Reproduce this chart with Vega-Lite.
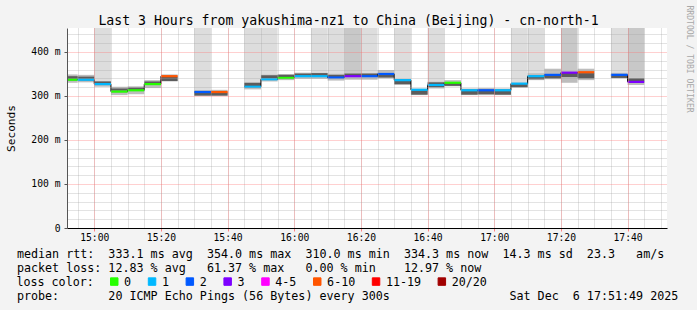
{
  "$schema": "https://vega.github.io/schema/vega-lite/v6.json",
  "autosize": "none",
  "width": 600,
  "height": 200,
  "padding": {"left": 67, "top": 28, "right": 30, "bottom": 82},
  "background": "#f3f3f3",
  "title": {
    "text": "Last 3 Hours from yakushima-nz1 to China (Beijing) - cn-north-1",
    "font": "DejaVu Sans Mono", "fontSize": 13.2, "fontWeight": "normal", "color": "#000000",
    "anchor": "middle", "frame": "bounds", "baseline": "alphabetic", "offset": 4.5, "dy": 37.5
  },
  "data": {"values": [
    {"t": "2025-12-06T14:50:00Z", "e": "2025-12-06T14:55:00Z", "m": 337, "loss": "0", "hi": 0, "lo": 330, "up": 349, "dl": 338, "dh": 345},
    {"t": "2025-12-06T14:55:00Z", "e": "2025-12-06T15:00:00Z", "m": 337, "loss": "1", "hi": 0, "lo": 331, "up": 348, "dl": 338, "dh": 344},
    {"t": "2025-12-06T15:00:00Z", "e": "2025-12-06T15:05:00Z", "m": 327, "loss": "1", "hi": 1, "lo": 321, "up": 334, "dl": 328, "dh": 333},
    {"t": "2025-12-06T15:05:00Z", "e": "2025-12-06T15:10:00Z", "m": 310, "loss": "0", "hi": 0, "lo": 302, "up": 321, "dl": 312, "dh": 317},
    {"t": "2025-12-06T15:10:00Z", "e": "2025-12-06T15:15:00Z", "m": 313, "loss": "0", "hi": 0, "lo": 304, "up": 322, "dl": 314, "dh": 319},
    {"t": "2025-12-06T15:15:00Z", "e": "2025-12-06T15:20:00Z", "m": 327, "loss": "0", "hi": 0, "lo": 318, "up": 336, "dl": 328, "dh": 333},
    {"t": "2025-12-06T15:20:00Z", "e": "2025-12-06T15:25:00Z", "m": 345, "loss": "6-10", "hi": 0, "lo": 333, "up": 349, "dl": 334, "dh": 344},
    {"t": "2025-12-06T15:25:00Z", "e": "2025-12-06T15:30:00Z", "m": null, "loss": null, "hi": 0, "lo": null, "up": null, "dl": null, "dh": null},
    {"t": "2025-12-06T15:30:00Z", "e": "2025-12-06T15:35:00Z", "m": 309, "loss": "2", "hi": 1, "lo": 300, "up": 314, "dl": 301, "dh": 308},
    {"t": "2025-12-06T15:35:00Z", "e": "2025-12-06T15:40:00Z", "m": 309, "loss": "6-10", "hi": 0, "lo": 300, "up": 314, "dl": 301, "dh": 308},
    {"t": "2025-12-06T15:40:00Z", "e": "2025-12-06T15:45:00Z", "m": null, "loss": null, "hi": 0, "lo": null, "up": null, "dl": null, "dh": null},
    {"t": "2025-12-06T15:45:00Z", "e": "2025-12-06T15:50:00Z", "m": 321, "loss": "1", "hi": 1, "lo": 315, "up": 331, "dl": 322, "dh": 330},
    {"t": "2025-12-06T15:50:00Z", "e": "2025-12-06T15:55:00Z", "m": 338, "loss": "1", "hi": 1, "lo": 333, "up": 349, "dl": 340, "dh": 347},
    {"t": "2025-12-06T15:55:00Z", "e": "2025-12-06T16:00:00Z", "m": 341, "loss": "0", "hi": 0, "lo": 336, "up": 350, "dl": 342, "dh": 348},
    {"t": "2025-12-06T16:00:00Z", "e": "2025-12-06T16:05:00Z", "m": 345, "loss": "1", "hi": 0, "lo": 339, "up": 353, "dl": 346, "dh": 351},
    {"t": "2025-12-06T16:05:00Z", "e": "2025-12-06T16:10:00Z", "m": 345, "loss": "1", "hi": 1, "lo": 339, "up": 353, "dl": 346, "dh": 352},
    {"t": "2025-12-06T16:10:00Z", "e": "2025-12-06T16:15:00Z", "m": 342, "loss": "2", "hi": 1, "lo": 335, "up": 351, "dl": 343, "dh": 348},
    {"t": "2025-12-06T16:15:00Z", "e": "2025-12-06T16:20:00Z", "m": 345, "loss": "3", "hi": 2, "lo": 337, "up": 352, "dl": 346, "dh": 351},
    {"t": "2025-12-06T16:20:00Z", "e": "2025-12-06T16:25:00Z", "m": 345, "loss": "2", "hi": 1, "lo": 337, "up": 352, "dl": 346, "dh": 351},
    {"t": "2025-12-06T16:25:00Z", "e": "2025-12-06T16:30:00Z", "m": 350, "loss": "2", "hi": 0, "lo": 340, "up": 359, "dl": 342, "dh": 349},
    {"t": "2025-12-06T16:30:00Z", "e": "2025-12-06T16:35:00Z", "m": 336, "loss": "1", "hi": 1, "lo": 325, "up": 338, "dl": 327, "dh": 335},
    {"t": "2025-12-06T16:35:00Z", "e": "2025-12-06T16:40:00Z", "m": 314, "loss": "1", "hi": 0, "lo": 302, "up": 317, "dl": 303, "dh": 313},
    {"t": "2025-12-06T16:40:00Z", "e": "2025-12-06T16:45:00Z", "m": 325, "loss": "1", "hi": 1, "lo": 317, "up": 333, "dl": 320, "dh": 331},
    {"t": "2025-12-06T16:45:00Z", "e": "2025-12-06T16:50:00Z", "m": 330, "loss": "0", "hi": 0, "lo": 322, "up": 336, "dl": 323, "dh": 330},
    {"t": "2025-12-06T16:50:00Z", "e": "2025-12-06T16:55:00Z", "m": 313, "loss": "1", "hi": 0, "lo": 302, "up": 317, "dl": 303, "dh": 312},
    {"t": "2025-12-06T16:55:00Z", "e": "2025-12-06T17:00:00Z", "m": 313, "loss": "2", "hi": 0, "lo": 302, "up": 318, "dl": 304, "dh": 312},
    {"t": "2025-12-06T17:00:00Z", "e": "2025-12-06T17:05:00Z", "m": 313, "loss": "1", "hi": 0, "lo": 302, "up": 317, "dl": 303, "dh": 312},
    {"t": "2025-12-06T17:05:00Z", "e": "2025-12-06T17:10:00Z", "m": 328, "loss": "1", "hi": 1, "lo": 319, "up": 331, "dl": 320, "dh": 327},
    {"t": "2025-12-06T17:10:00Z", "e": "2025-12-06T17:15:00Z", "m": 345, "loss": "1", "hi": 1, "lo": 336, "up": 352, "dl": 338, "dh": 344},
    {"t": "2025-12-06T17:15:00Z", "e": "2025-12-06T17:20:00Z", "m": 348, "loss": "2", "hi": 0, "lo": 338, "up": 362, "dl": 340, "dh": 347},
    {"t": "2025-12-06T17:20:00Z", "e": "2025-12-06T17:25:00Z", "m": 353, "loss": "3", "hi": 2, "lo": 330, "up": 357, "dl": 343, "dh": 352},
    {"t": "2025-12-06T17:25:00Z", "e": "2025-12-06T17:30:00Z", "m": 354, "loss": "6-10", "hi": 0, "lo": 336, "up": 362, "dl": 340, "dh": 352},
    {"t": "2025-12-06T17:30:00Z", "e": "2025-12-06T17:35:00Z", "m": null, "loss": null, "hi": 0, "lo": null, "up": null, "dl": null, "dh": null},
    {"t": "2025-12-06T17:35:00Z", "e": "2025-12-06T17:40:00Z", "m": 348, "loss": "2", "hi": 1, "lo": 340, "up": 353, "dl": 341, "dh": 347},
    {"t": "2025-12-06T17:40:00Z", "e": "2025-12-06T17:45:00Z", "m": 332, "loss": "3", "hi": 2, "lo": 325, "up": 341, "dl": 333, "dh": 340}
  ]},
  "layer": [
    {
      "transform": [{"filter": "datum.hi == 1"}],
      "mark": {"type": "rect", "color": "#dddddd", "clip": true},
      "encoding": {
        "x": {"field": "t", "type": "temporal",
          "scale": {"type": "utc", "domain": [1765032709000, 1765043509000]},
          "axis": {"orient": "bottom", "values": [1765032900000, 1765033200000, 1765033500000, 1765033800000, 1765034100000, 1765034400000, 1765034700000, 1765035000000, 1765035300000, 1765035600000, 1765035900000, 1765036200000, 1765036500000, 1765036800000, 1765037100000, 1765037400000, 1765037700000, 1765038000000, 1765038300000, 1765038600000, 1765038900000, 1765039200000, 1765039500000, 1765039800000, 1765040100000, 1765040400000, 1765040700000, 1765041000000, 1765041300000, 1765041600000, 1765041900000, 1765042200000, 1765042500000, 1765042800000, 1765043100000, 1765043400000],
            "labels": false, "ticks": false, "domain": false, "title": null,
            "grid": true, "gridColor": "#a0a0a0", "gridOpacity": 0.6, "gridDash": [1, 1], "gridWidth": 1, "zindex": 1}},
        "x2": {"field": "e"},
        "y": {"field": "up", "type": "quantitative", "scale": {"domain": [0, 454.5], "nice": false, "zero": false},
          "axis": {"orient": "left", "values": [20, 40, 60, 80, 120, 140, 160, 180, 220, 240, 260, 280, 320, 340, 360, 380, 420, 440],
            "labels": false, "ticks": false, "domain": false, "title": null,
            "grid": true, "gridColor": "#a0a0a0", "gridOpacity": 0.6, "gridDash": [1, 1], "gridWidth": 1, "zindex": 1}},
        "y2": {"datum": 454.5}
      }
    },
    {
      "transform": [{"filter": "datum.hi == 2"}],
      "mark": {"type": "rect", "color": "#c8c8c8", "clip": true},
      "encoding": {
        "x": {"field": "t", "type": "temporal", "axis": null},
        "x2": {"field": "e"},
        "y": {"field": "up", "type": "quantitative",
          "axis": {"orient": "right", "labels": false, "ticks": false, "domain": false, "grid": false,
            "title": "RRDTOOL / TOBI OETIKER", "titleFont": "DejaVu Sans Mono", "titleFontSize": 8.1, "titleFontWeight": "normal",
            "titleColor": "#a8a8a8", "titleAngle": 90, "titleAlign": "left", "titleBaseline": "middle", "titleX": 21, "titleY": -23}},
        "y2": {"datum": 454.5}
      }
    },
    {
      "transform": [{"filter": "datum.m != null"}],
      "mark": {"type": "rect", "color": "#bdbdbd", "clip": true},
      "encoding": {
        "x": {"field": "t", "type": "temporal",
          "axis": {"orient": "bottom", "values": [1765033200000, 1765034400000, 1765035600000, 1765036800000, 1765038000000, 1765039200000, 1765040400000, 1765041600000, 1765042800000],
            "format": "%H:%M",
            "labelFont": "DejaVu Sans Mono", "labelFontSize": 9.7, "labelColor": "#000000", "labelPadding": 1, "labelFlush": false, "labelOverlap": false,
            "ticks": true, "tickSize": 3, "tickColor": "#ff8080", "domain": true, "domainColor": "#000000", "domainWidth": 1,
            "grid": true, "gridColor": "#ff7070", "gridOpacity": 0.65, "gridDash": [1, 1], "gridWidth": 1, "zindex": 1,
            "title": [
              "median rtt:\u00a0\u00a0333.1 ms avg\u00a0\u00a0354.0 ms max\u00a0\u00a0310.0 ms min\u00a0\u00a0334.3 ms now\u00a0\u00a014.3 ms sd\u00a0\u00a023.3\u00a0\u00a0\u00a0am/s",
              "packet loss: 12.83 % avg\u00a0\u00a0\u00a061.37 % max\u00a0\u00a0\u00a00.00 % min\u00a0\u00a0\u00a0\u00a012.97 % now",
              "\u200b",
              "probe:\u00a0\u00a0\u00a0\u00a0\u00a0\u00a0\u00a020 ICMP Echo Pings (56 Bytes) every 300s\u00a0\u00a0\u00a0\u00a0\u00a0\u00a0\u00a0\u00a0\u00a0\u00a0\u00a0\u00a0\u00a0\u00a0\u00a0\u00a0\u00a0Sat Dec\u00a0\u00a06 17:51:49 2025"
            ],
            "titleFont": "DejaVu Sans Mono", "titleFontSize": 11.7, "titleFontWeight": "normal", "titleColor": "#000000",
            "titleX": -50.6, "titleY": 20, "titleAlign": "left", "titleBaseline": "top", "titleLineHeight": 14}},
        "x2": {"field": "e"},
        "y": {"field": "lo", "type": "quantitative",
          "axis": {"orient": "left", "values": [0, 100, 200, 300, 400],
            "labelExpr": "datum.value == 0 ? '0' : datum.value + ' m'",
            "labelFont": "DejaVu Sans Mono", "labelFontSize": 9.7, "labelColor": "#000000", "labelPadding": 4,
            "ticks": true, "tickSize": 3, "tickColor": "#555555", "domain": true, "domainColor": "#555555",
            "grid": true, "gridColor": "#ff7070", "gridOpacity": 0.65, "gridDash": [1, 1], "gridWidth": 1, "zindex": 1,
            "title": "Seconds", "titleFont": "DejaVu Sans Mono", "titleFontSize": 11.1, "titleFontWeight": "normal", "titleColor": "#000000",
            "titleAngle": -90, "titleX": -56, "titleY": 100, "titleAlign": "center", "titleBaseline": "middle"}},
        "y2": {"field": "up"}
      }
    },
    {
      "transform": [{"filter": "datum.m != null"}],
      "mark": {"type": "rect", "color": "#5c5c5c", "clip": true},
      "encoding": {
        "x": {"field": "t", "type": "temporal", "axis": null},
        "x2": {"field": "e"},
        "y": {"field": "dl", "type": "quantitative", "axis": null},
        "y2": {"field": "dh"}
      }
    },
    {
      "mark": {"type": "line", "interpolate": "step-after", "color": "#000000", "strokeWidth": 1, "clip": true},
      "encoding": {
        "x": {"field": "t", "type": "temporal", "axis": null},
        "y": {"field": "m", "type": "quantitative", "axis": null}
      }
    },
    {
      "transform": [{"filter": "datum.m != null"}],
      "mark": {"type": "rule", "strokeWidth": 2.2, "clip": true},
      "encoding": {
        "x": {"field": "t", "type": "temporal", "axis": null},
        "x2": {"field": "e"},
        "y": {"field": "m", "type": "quantitative", "axis": null},
        "color": {"field": "loss", "type": "nominal",
          "scale": {"domain": ["0", "1", "2", "3", "4-5", "6-10", "11-19", "20/20"],
            "range": ["#26ff00", "#00b8ff", "#0059ff", "#7e00ff", "#ff00ff", "#ff5500", "#ff0000", "#a10000"]},
          "legend": {"orient": "none", "legendX": -50.6, "legendY": 247.5, "direction": "horizontal", "columns": 8,
            "title": "loss color:", "titleOrient": "left", "titleFont": "DejaVu Sans Mono", "titleFontSize": 11.7, "titleFontWeight": "normal",
            "titleColor": "#000000", "titlePadding": 14,
            "labelFont": "DejaVu Sans Mono", "labelFontSize": 11.7, "labelColor": "#000000", "labelOffset": 4,
            "symbolType": "square", "symbolSize": 56, "symbolStrokeWidth": 1,
            "columnPadding": 14.8, "padding": 0,
            "encode": {"symbols": {"update": {"fill": {"scale": "color", "field": "value"}, "stroke": {"value": "#000000"},
              "strokeWidth": {"value": 1}, "opacity": {"value": 1}, "fillOpacity": {"value": 1}, "strokeOpacity": {"value": 1}}}}}}
      }
    }
  ],
  "resolve": {"axis": {"x": "independent", "y": "independent"}},
  "config": {
    "font": "DejaVu Sans Mono",
    "view": {"stroke": null, "fill": "#ffffff"}
  }
}
